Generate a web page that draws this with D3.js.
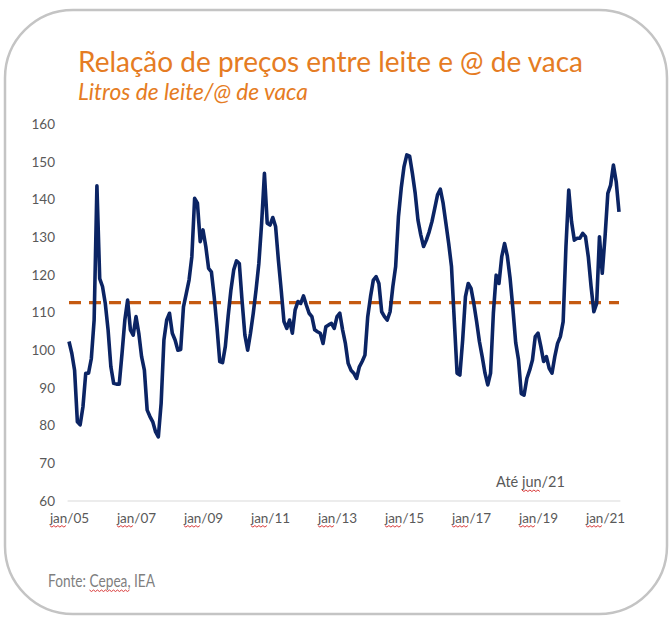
<!DOCTYPE html>
<html><head><meta charset="utf-8">
<script src="https://cdn.jsdelivr.net/npm/d3@7"></script>
<style>body{margin:0;background:#fff}svg{display:block}</style>
</head><body>
<svg id="c" width="671" height="622"></svg>
<script>
const titleText = "Relação de preços entre leite e @ de vaca";
const subtitleText = "Litros de leite/@ de vaca";
const noteText = "Até jun/21";
const sourceText = "Fonte: Cepea, IEA";
const startYear = 2005, startMonth = 0;
const tickLabels = ["jan/05","jan/07","jan/09","jan/11","jan/13","jan/15","jan/17","jan/19","jan/21"];
const yTicks = [60,70,80,90,100,110,120,130,140,150,160];
const averageValue = [112.6];
const values = [
 102.3,99.2,94.7,81,80.2,85,93.9,93.9,97.8,108,143.6,119,
 116.9,112.4,105.4,95.6,91.2,91,91,99.2,108,113.3,105.4,104,
 108.9,104.5,98.3,94.7,84.1,82.4,81,78.4,77,85.9,102.7,108,
 109.8,104.5,102.7,100,100.2,111.5,115,118.6,124.8,140.3,139,128.8,
 131.9,127.5,121.7,120.8,114.2,106.2,97,96.7,101,109,116,121.3,
 123.7,123,113,104,100,104.5,109.8,116,123,133.7,146.9,133.7,
 133.2,135.2,132.8,123.9,116,107.6,105.8,108,104.5,110.7,112.9,112.4,
 114.4,112,109.8,108.9,105.4,104.9,104.5,101.8,106.2,106.7,107.1,105.8,
 108.9,109.8,105.4,101.8,96.5,94.7,93.9,92.5,95.6,97,98.7,108.9,
 114.2,118.6,119.5,117.7,110.2,108.9,108,110.2,116.9,122.2,135.4,143,
 148.7,151.8,151.5,146.9,141.6,134.5,130.6,127.5,129.2,131.4,134.1,137.6,
 141.2,142.7,139,133.7,128.3,122.2,108,93.9,93.4,102.7,114.2,117.7,
 116.4,112.4,107.6,102.3,98.3,93.9,90.8,93.9,109.8,119.9,117.7,124.8,
 128.3,125,119,111,102,97.5,88.5,88.1,92.5,94.7,97.4,103.6,
 104.5,101,97,98.3,95.2,93.9,98.3,101.8,103.6,107.6,127.5,142.5,
 134.1,129.2,129.7,129.7,131,130.1,124.8,116.9,110.2,112.4,130.1,120.4,
 130.1,141.6,143.8,149.1,144.7,136.7
];
const monthNames = ["jan","fev","mar","abr","mai","jun","jul","ago","set","out","nov","dez"];
const categories = values.map((v,i)=>{
  const mm = (startMonth+i)%12, yy = startYear + Math.floor((startMonth+i)/12);
  return monthNames[mm] + "/" + String(yy).slice(2);
});

const svg = d3.select("#c");
const FONT = "Lato, 'Open Sans', sans-serif";

// frame
svg.append("rect").attr("x",5).attr("y",10).attr("width",662).attr("height",604)
  .attr("rx",68).attr("ry",68).attr("fill","#fff").attr("stroke","#c4c4c4").attr("stroke-width",2.5);

const plot = {left:67.6, right:620.4, top:124, bottom:501};
const x = d3.scalePoint().domain(categories).range([69, 619]);
const y = d3.scaleLinear().domain([60,160]).range([plot.bottom, plot.top]);

function fit(sel, target){
  const w = sel.node().getComputedTextLength();
  const fs = parseFloat(sel.attr("font-size"));
  sel.attr("font-size", (fs*target/w).toFixed(2));
}
const squiggles = svg.append("g").attr("fill","none").attr("stroke","#d93a3a").attr("stroke-width",1);
function squiggle(textNode, start, len){
  const a = textNode.getStartPositionOfChar(start);
  const e = textNode.getEndPositionOfChar(start+len-1);
  const m = textNode.getScreenCTM();
  const x0 = m.a*a.x + m.e, x1 = m.a*e.x + m.e, yb = a.y + m.f + 3;
  const pts = [];
  for (let xx = x0, k = 0; xx <= x1; xx += 2, k++) pts.push([xx, yb + (k%2 ? 1.5 : 0)]);
  squiggles.append("path").attr("d", d3.line()(pts));
}

// title
const t = svg.append("text").attr("x",78).attr("y",72).attr("font-family",FONT)
  .attr("font-size",26).attr("fill","#E57C23").text(titleText);
fit(t, 505);
const st = svg.append("text").attr("x",78).attr("y",100).attr("font-family",FONT)
  .attr("font-style","italic").attr("font-size",20).attr("fill","#E57C23").text(subtitleText);
fit(st, 230);

// y axis labels
const yAxis = d3.axisLeft(y).tickValues(yTicks).tickSize(0).tickPadding(0);
const gy = svg.append("g").attr("transform","translate(55,0)").call(yAxis);
gy.select(".domain").remove();
gy.selectAll("text").attr("font-family",FONT).attr("font-size",13.5).attr("fill","#595959");

// baseline
svg.append("line").attr("x1",plot.left).attr("x2",plot.right).attr("y1",y(60)).attr("y2",y(60))
  .attr("stroke","#d9d9d9").attr("stroke-width",1);

// x axis labels
const tickCats = categories.filter(c => tickLabels.includes(c));
const xAxis = d3.axisBottom(x).tickValues(tickCats).tickSize(0).tickPadding(0);
const gx = svg.append("g").attr("transform",`translate(0,${y(60)+12})`).call(xAxis);
gx.select(".domain").remove();
gx.selectAll("text").attr("font-family",FONT).attr("font-size",13.5).attr("fill","#595959");

// average dashed line
svg.append("path")
  .datum(categories.map(c => [c, averageValue[0]]))
  .attr("d", d3.line().x(d=>x(d[0])).y(d=>y(d[1])))
  .attr("fill","none").attr("stroke","#C55A11").attr("stroke-width",3.2).attr("stroke-dasharray","12,8");

// main line
svg.append("path")
  .datum(values.map((v,i)=>[categories[i], v]))
  .attr("d", d3.line().x(d=>x(d[0])).y(d=>y(d[1])))
  .attr("fill","none").attr("stroke","#0B2464").attr("stroke-width",3.6).attr("stroke-linejoin","round");

// note
const note = svg.append("text").attr("x",496).attr("y",487).attr("font-family",FONT)
  .attr("font-size",14.5).attr("fill","#595959").text(noteText);

// source (condensed)
const src = svg.append("text").attr("x",0).attr("y",0).attr("font-family",FONT)
  .attr("font-size",18).attr("fill","#7f7f7f").text(sourceText)
  .attr("transform","translate(48,587) scale(0.85,1)");
{
  const w = src.node().getComputedTextLength();
  src.attr("transform",`translate(48,587) scale(${(107/w).toFixed(3)},1)`);
}

// spell-check squiggles
gx.selectAll("text").each(function(){ squiggle(this, 0, 3); });
squiggle(note.node(), 4, 3);
squiggle(src.node(), 7, 6);
</script>
</body></html>
